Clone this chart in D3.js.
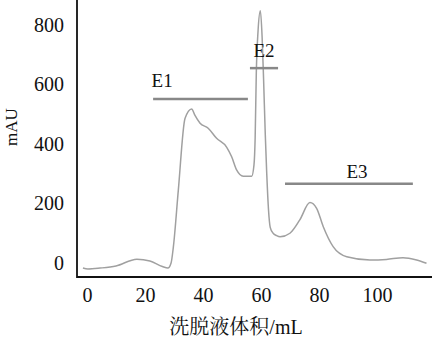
<script src="https://cdnjs.cloudflare.com/ajax/libs/d3/7.8.5/d3.min.js"></script>
<style>
    body { margin: 0; background: #fff; }
</style>
<div id="canvas"></div>
<script>
    const width = 433;
    const height = 339;
    const latinFont = '"Liberation Serif"';
    const titleFont = '"Liberation Serif", "Noto Serif CJK SC"';

    // elution volume (mL) and absorbance (mAU)
    const volume = [-1.4, 0.3, 4.5, 10, 17.2, 21.7, 26, 27.9, 29, 29.8, 31.5, 33.8, 36.1, 37.2, 39, 41.8, 44.7,
        48.2, 49.9, 51.6, 53.9, 56.8, 57.6, 58.0, 58.4, 59.0, 59.8, 60.4, 60.9, 61.5, 62.0, 62.6, 63.2,
        64.2, 65.4, 66.6, 70, 73.4, 76.9, 79.2, 81.5, 84.9, 89.6, 97.6, 103.3, 109, 113.7, 117.1];
    const mAU = [-17, -20, -17, -10, 13, 7, -12, -17, 0, 55, 245, 486, 518, 497, 470, 453, 419,
        389, 357, 313, 292, 292, 330, 420, 640, 780, 848, 760, 620, 430, 300, 180, 120,
        100, 92, 88, 100, 145, 203, 184, 122, 55, 21, 10, 12, 18, 10, -1];

    // collected fractions
    const fractions = ["E1", "E2", "E3"];
    const fracStart = [22.8, 56.2, 68.3];
    const fracEnd = [55.5, 65.9, 112.4];
    const fracLevel = [551, 655, 266];
    const fracLabelY = [590, 693, 286];

    const xTicks = [0, 20, 40, 60, 80, 100];
    const yTicks = [0, 200, 400, 600, 800];

    const x = d3.scaleLinear().domain([-3.45, 119]).range([77, 432]);
    const y = d3.scaleLinear().domain([-47, 884]).range([277, 0]);

    const svg = d3.select("#canvas")
        .append("svg")
        .attr("width", width)
        .attr("height", height)
        .style("display", "block");

    // y axis labels
    const yAxis = svg.append("g")
        .attr("transform", `translate(${x.range()[0]},0)`)
        .call(d3.axisLeft(y).tickValues(yTicks).tickSize(0).tickPadding(13).tickFormat(d3.format("d")));
    yAxis.select(".domain").remove();
    yAxis.selectAll("text").attr("font-size", 20).style("font-family", latinFont).attr("fill", "#111");

    const xAxis = svg.append("g")
        .attr("transform", `translate(0,${y.range()[0]})`)
        .call(d3.axisBottom(x).tickValues(xTicks).tickSize(0).tickPadding(11).tickFormat(d3.format("d")));
    xAxis.select(".domain").remove();
    xAxis.selectAll("text").attr("font-size", 20).style("font-family", latinFont).attr("fill", "#111");

    // axis lines
    svg.append("path")
        .attr("d", `M${x.range()[0]},${y.range()[1]}V${y.range()[0]}H${x.range()[1]}`)
        .attr("fill", "none")
        .attr("stroke", "#111")
        .attr("stroke-width", 1.8);

    // trace
    const points = volume.map((v, i) => [v, mAU[i]]);
    svg.append("path")
        .datum(points)
        .attr("d", d3.line().x(d => x(d[0])).y(d => y(d[1])).curve(d3.curveMonotoneX))
        .attr("fill", "none")
        .attr("stroke", "#a0a0a0")
        .attr("stroke-width", 1.5);

    // fraction bars
    svg.selectAll("line.frac")
        .data(fractions)
        .enter()
        .append("line")
        .attr("class", "frac")
        .attr("x1", (d, i) => x(fracStart[i]))
        .attr("x2", (d, i) => x(fracEnd[i]))
        .attr("y1", (d, i) => y(fracLevel[i]))
        .attr("y2", (d, i) => y(fracLevel[i]))
        .attr("stroke", "#888")
        .attr("stroke-width", 2.5);

    svg.selectAll("text.frac")
        .data(fractions)
        .enter()
        .append("text")
        .attr("class", "frac")
        .attr("x", (d, i) => i === 0 ? x(fracStart[i]) + 9 : x((fracStart[i] + fracEnd[i]) / 2) + (i === 2 ? 8 : 0))
        .attr("y", (d, i) => y(fracLabelY[i]))
        .attr("text-anchor", "middle")
        .attr("font-size", 19)
        .style("font-family", latinFont)
        .attr("fill", "#111")
        .text(d => d);

    // axis titles
    svg.append("text")
        .attr("transform", "translate(17,127) rotate(-90)")
        .attr("text-anchor", "middle")
        .attr("font-size", 17)
        .style("font-family", latinFont)
        .attr("fill", "#111")
        .text("mAU");

    svg.append("text")
        .attr("x", 236)
        .attr("y", 334)
        .attr("text-anchor", "middle")
        .attr("font-size", 20)
        .style("font-family", titleFont)
        .attr("fill", "#111")
        .text("洗脱液体积/mL");
</script>
